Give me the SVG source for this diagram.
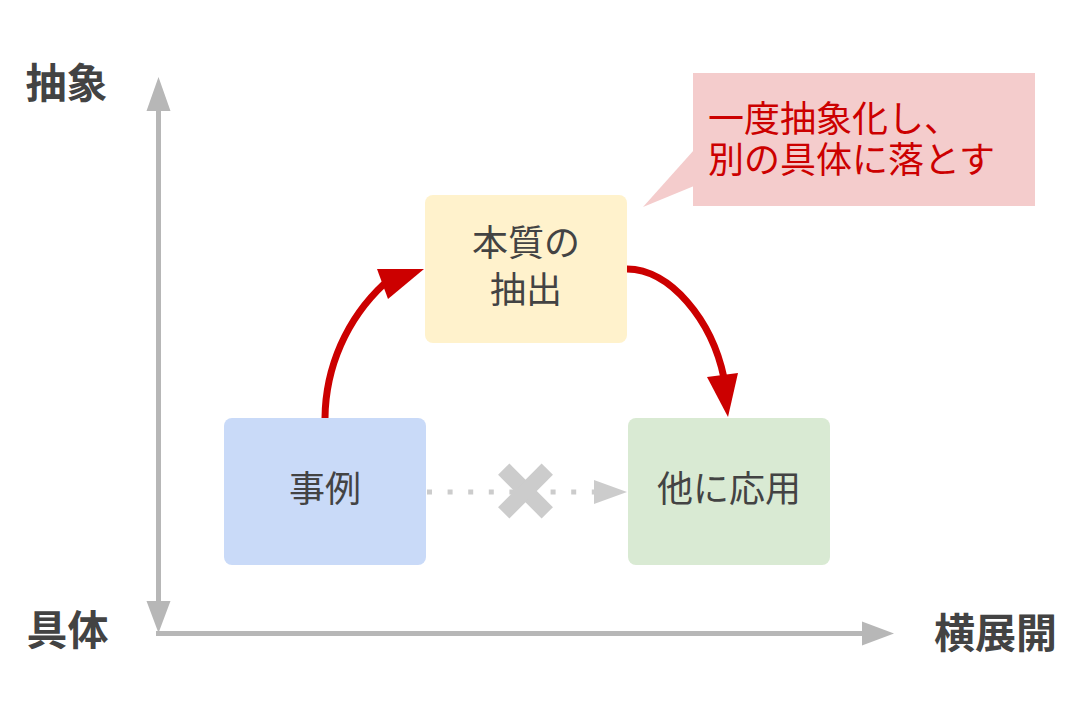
<svg xmlns="http://www.w3.org/2000/svg" width="1092" height="702" viewBox="0 0 1092 702">
  <style>
    .axis { stroke: #b7b7b7; stroke-width: 5; fill: none; }
    .axishead { fill: #b7b7b7; }
    .axislabel { font-family: "Noto Sans CJK JP", "Noto Sans", sans-serif; font-weight: bold; font-size: 41px; fill: #434343; }
    .box { stroke: none; }
    .nodetext { font-family: "Noto Sans CJK JP", "Noto Sans", sans-serif; font-size: 36px; fill: #434343; text-anchor: middle; }
    .red { stroke: #cc0000; stroke-width: 7; fill: none; }
    .redhead { fill: #cc0000; }
    .dotted { stroke: #cccccc; stroke-width: 5; stroke-dasharray: 5 15.6; fill: none; }
    .grayhead { fill: #cccccc; }
    .cross { stroke: #cccccc; stroke-width: 16; stroke-linecap: butt; }
    .callouttext { font-family: "Noto Sans CJK JP", "Noto Sans", sans-serif; font-size: 36px; fill: #cc0000; }
  </style>
  <rect width="1092" height="702" fill="#ffffff"/>

  <g id="axes">
    <line class="axis" x1="158.5" y1="108" x2="158.5" y2="604"/>
    <polygon class="axishead" points="158.5,77 146.5,111 170.5,111"/>
    <polygon class="axishead" points="146.5,601 170.5,601 158.5,633"/>
    <line class="axis" x1="156" y1="633.5" x2="865" y2="633.5"/>
    <polygon class="axishead" points="862,621.5 894,633.5 862,645.5"/>
    <text class="axislabel" x="25.5" y="97.5">抽象</text>
    <text class="axislabel" x="26.5" y="645">具体</text>
    <text class="axislabel" x="934" y="648">横展開</text>
  </g>

  <g id="connectors">
    <path class="red" d="M325,418 A186,186 0 0 1 384,284"/>
    <polygon class="redhead" points="424,269 377,269 388,299"/>
    <path class="red" d="M627,269 C670,269 712,320 724,378"/>
    <polygon class="redhead" points="728,417 707,377 738,373"/>
    <line class="dotted" x1="427" y1="492" x2="594" y2="492"/>
    <polygon class="grayhead" points="594,480 627,492 594,504"/>
    <g id="cross">
      <line class="cross" x1="503.7" y1="469.2" x2="547.3" y2="512.8"/>
      <line class="cross" x1="547.3" y1="469.2" x2="503.7" y2="512.8"/>
    </g>
  </g>

  <g id="node-jirei">
    <rect class="box" x="224" y="418" width="202" height="147" rx="8" fill="#c9daf8"/>
    <text class="nodetext" x="325" y="502">事例</text>
  </g>

  <g id="node-honshitsu">
    <rect class="box" x="425" y="195" width="202" height="148" rx="8" fill="#fff2cc"/>
    <text class="nodetext" x="526" y="256">本質の<tspan x="526" dy="46.5">抽出</tspan></text>
  </g>

  <g id="node-ouyou">
    <rect class="box" x="628" y="418" width="202" height="147" rx="8" fill="#d9ead3"/>
    <text class="nodetext" x="729" y="502">他に応用</text>
  </g>

  <g id="callout">
    <rect x="693" y="73" width="342" height="133" fill="#f4cccc"/>
    <polygon points="694,150 643,207 694,186" fill="#f4cccc"/>
    <text class="callouttext" x="708" y="131.5">一度抽象化し、<tspan x="708" dy="41">別の具体に落とす</tspan></text>
  </g>
</svg>
